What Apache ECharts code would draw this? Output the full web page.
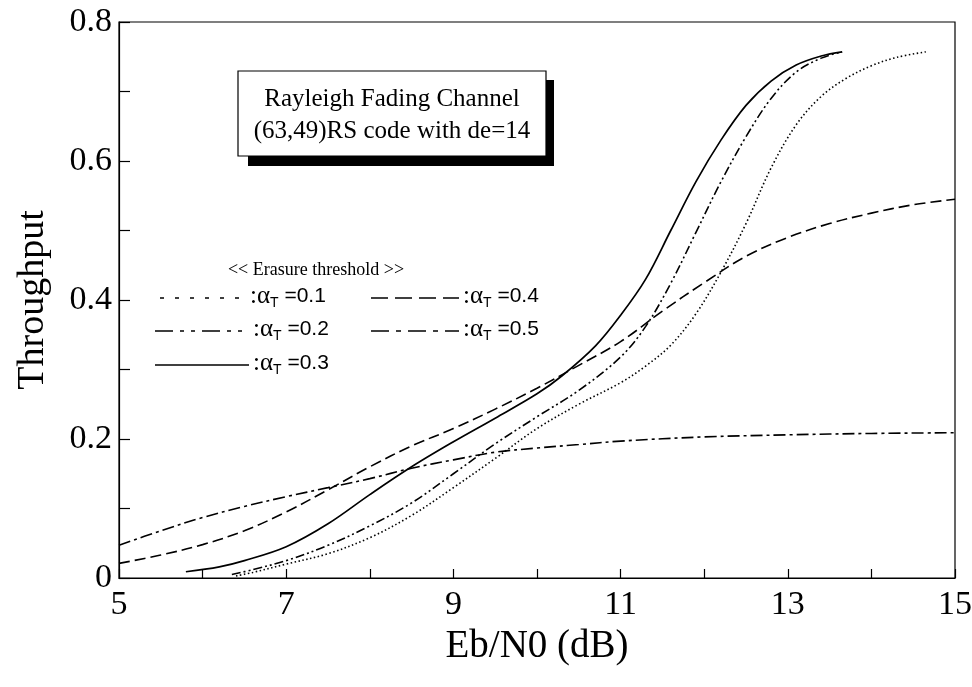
<!DOCTYPE html>
<html>
<head>
<meta charset="utf-8">
<script src="https://cdn.jsdelivr.net/npm/echarts@6/dist/echarts.min.js"></script>
<style>
html,body{margin:0;padding:0;background:#fff;}
#chart{width:972px;height:687px;}
</style>
</head>
<body>
<div id="chart"></div>
<script>
// ---- data ----
var xTickLabels = [5, 7, 9, 11, 13, 15];
var yTickLabels = [0, 0.2, 0.4, 0.6, 0.8];

// alpha_T = 0.1 (dotted)
var x01 = [6.4, 6.6, 7, 7.5, 8, 8.5, 9, 9.5, 10, 10.5, 11, 11.3, 11.6, 11.9, 12.2, 12.5, 12.8, 13.1, 13.4, 13.7, 14, 14.3, 14.65];
var y01 = [0.003, 0.008, 0.02, 0.035, 0.058, 0.09, 0.13, 0.172, 0.215, 0.25, 0.281, 0.305, 0.335, 0.38, 0.44, 0.51, 0.59, 0.652, 0.693, 0.719, 0.737, 0.749, 0.757];

// alpha_T = 0.2 (dash-dot-dot)
var x02 = [6.35, 6.6, 7, 7.5, 8, 8.5, 9, 9.5, 10, 10.5, 11, 11.3, 11.6, 11.9, 12.2, 12.5, 12.8, 13.1, 13.4, 13.65];
var y02 = [0.005, 0.012, 0.025, 0.047, 0.075, 0.108, 0.15, 0.193, 0.232, 0.27, 0.318, 0.362, 0.424, 0.497, 0.57, 0.635, 0.69, 0.728, 0.748, 0.757];

// alpha_T = 0.3 (solid)
var x03 = [5.8, 6.2, 6.5, 7, 7.5, 8, 8.5, 9, 9.5, 10, 10.3, 10.7, 11, 11.3, 11.6, 11.9, 12.2, 12.5, 12.8, 13.1, 13.4, 13.65];
var y03 = [0.009, 0.016, 0.025, 0.045, 0.078, 0.12, 0.16, 0.196, 0.23, 0.265, 0.291, 0.334, 0.378, 0.43, 0.5, 0.57, 0.63, 0.68, 0.715, 0.738, 0.751, 0.757];

// alpha_T = 0.4 (dashed)
var x04 = [5, 5.5, 6, 6.5, 7, 7.5, 8, 8.5, 9, 9.5, 10, 10.5, 11, 11.5, 12, 12.5, 13, 13.5, 14, 14.5, 15];
var y04 = [0.021, 0.033, 0.048, 0.068, 0.095, 0.127, 0.16, 0.19, 0.215, 0.243, 0.273, 0.306, 0.34, 0.384, 0.425, 0.463, 0.49, 0.51, 0.525, 0.537, 0.545];

// alpha_T = 0.5 (dash-dot)
var x05 = [5, 5.5, 6, 6.5, 7, 7.5, 8, 8.5, 9, 9.5, 10, 10.5, 11, 12, 13, 14, 15];
var y05 = [0.047, 0.068, 0.087, 0.103, 0.117, 0.13, 0.143, 0.158, 0.17, 0.181, 0.187, 0.192, 0.197, 0.203, 0.206, 0.208, 0.209];

var seriesNames = ['0.1', '0.2', '0.3', '0.4', '0.5'];
var boxTitle = ['Rayleigh Fading Channel', '(63,49)RS code with de=14'];
var legendTitle = '<< Erasure threshold >>';

// ---- styles ----
var dashes = {
  '0.1': [1.5, 2.5],
  '0.2': [9, 3, 2, 3, 2, 3],
  '0.3': null,
  '0.4': [11, 5],
  '0.5': [12, 4, 3, 4]
};
var legendDashes = {
  '0.1': [4, 11],
  '0.2': [18, 7, 4, 7, 4, 7],
  '0.3': null,
  '0.4': [17, 7],
  '0.5': [18, 7, 5, 7]
};

function zip(xs, ys) { return xs.map(function (x, i) { return [x, ys[i]]; }); }
var allData = [zip(x01, y01), zip(x02, y02), zip(x03, y03), zip(x04, y04), zip(x05, y05)];

var SERIF = '"Liberation Serif", "Times New Roman", serif';
var SANS = '"Liberation Sans", Arial, sans-serif';

var series = seriesNames.map(function (n, i) {
  return {
    name: n,
    type: 'line',
    data: allData[i],
    smooth: 0.35,
    symbol: 'none',
    silent: true,
    lineStyle: {
      color: '#000',
      width: n === '0.3' ? 1.7 : 1.6,
      type: dashes[n] ? dashes[n] : 'solid'
    }
  };
});

var chart = echarts.init(document.getElementById('chart'));

var legendItems = [
  { n: '0.1', x: 160, y: 296, len: 86 },
  { n: '0.4', x: 371, y: 296, len: 88 },
  { n: '0.2', x: 155, y: 329, len: 94 },
  { n: '0.5', x: 371, y: 329, len: 88 },
  { n: '0.3', x: 155, y: 363, len: 94 }
];
var graphics = [];
graphics.push({ type: 'rect', shape: { x: 248, y: 80, width: 306, height: 86 }, style: { fill: '#000' }, silent: true, z: 100 });
graphics.push({ type: 'rect', shape: { x: 238, y: 71, width: 308, height: 85 }, style: { fill: '#fff', stroke: '#000', lineWidth: 1.2 }, silent: true, z: 101 });
graphics.push({ type: 'text', x: 392, y: 99, style: { text: boxTitle[0], font: '25px ' + SERIF, fill: '#000', textAlign: 'center', textVerticalAlign: 'middle' }, z: 102 });
graphics.push({ type: 'text', x: 392, y: 131, style: { text: boxTitle[1], font: '25px ' + SERIF, fill: '#000', textAlign: 'center', textVerticalAlign: 'middle' }, z: 102 });
graphics.push({ type: 'text', x: 316, y: 270, style: { text: legendTitle, font: '18px ' + SERIF, fill: '#000', textAlign: 'center', textVerticalAlign: 'middle' }, z: 102 });
legendItems.forEach(function (it) {
  graphics.push({
    type: 'line', shape: { x1: it.x, y1: it.y + 2, x2: it.x + it.len, y2: it.y + 2 },
    style: { stroke: '#000', lineWidth: 1.6, lineDash: legendDashes[it.n] },
    silent: true, z: 102
  });
  graphics.push({
    type: 'text', x: it.x + it.len + 4, y: it.y,
    style: {
      text: '{a|:α}{s|T}{b| =' + it.n + '}',
      textVerticalAlign: 'middle',
      rich: {
        a: { font: '25px ' + SERIF, fill: '#000' },
        s: { font: '14px ' + SANS, fill: '#000', padding: [14, 0, 0, 0] },
        b: { font: '21px ' + SANS, fill: '#000' }
      }
    },
    z: 102
  });
});

var option = {
  backgroundColor: '#fff',
  animation: false,
  grid: {
    left: 119, right: 17, top: 22, bottom: 109,
    containLabel: false, outerBoundsMode: 'none',
    show: true, borderColor: '#000', borderWidth: 1.2, backgroundColor: 'transparent'
  },
  xAxis: {
    type: 'value', min: 5, max: 15, interval: 1,
    name: 'Eb/N0 (dB)', nameLocation: 'middle', nameGap: 42,
    nameTextStyle: { fontFamily: SERIF, fontSize: 39, color: '#000' },
    axisLine: { show: true, onZero: false, lineStyle: { color: '#000', width: 1.2 } },
    axisTick: { show: true, inside: true, length: 9, lineStyle: { color: '#000', width: 1.2 } },
    splitLine: { show: false },
    axisLabel: {
      fontFamily: SERIF, fontSize: 34, color: '#000', margin: 10,
      formatter: function (v) { return xTickLabels.indexOf(v) >= 0 ? String(v) : ''; }
    }
  },
  yAxis: {
    type: 'value', min: 0, max: 0.8, interval: 0.1,
    name: 'Throughput', nameLocation: 'middle', nameGap: 67, nameRotate: 90,
    nameTextStyle: { fontFamily: SERIF, fontSize: 38, color: '#000' },
    axisLine: { show: true, lineStyle: { color: '#000', width: 1.2 } },
    axisTick: { show: true, inside: true, length: 11, lineStyle: { color: '#000', width: 1.2 } },
    splitLine: { show: false },
    axisLabel: {
      fontFamily: SERIF, fontSize: 34, color: '#000', margin: 7,
      formatter: function (v) {
        var r = Math.round(v * 10) / 10;
        for (var i = 0; i < yTickLabels.length; i++) { if (Math.abs(yTickLabels[i] - r) < 1e-6) return String(yTickLabels[i]); }
        return '';
      }
    }
  },
  series: series,
  graphic: graphics
};
chart.setOption(option);
</script>
</body>
</html>
